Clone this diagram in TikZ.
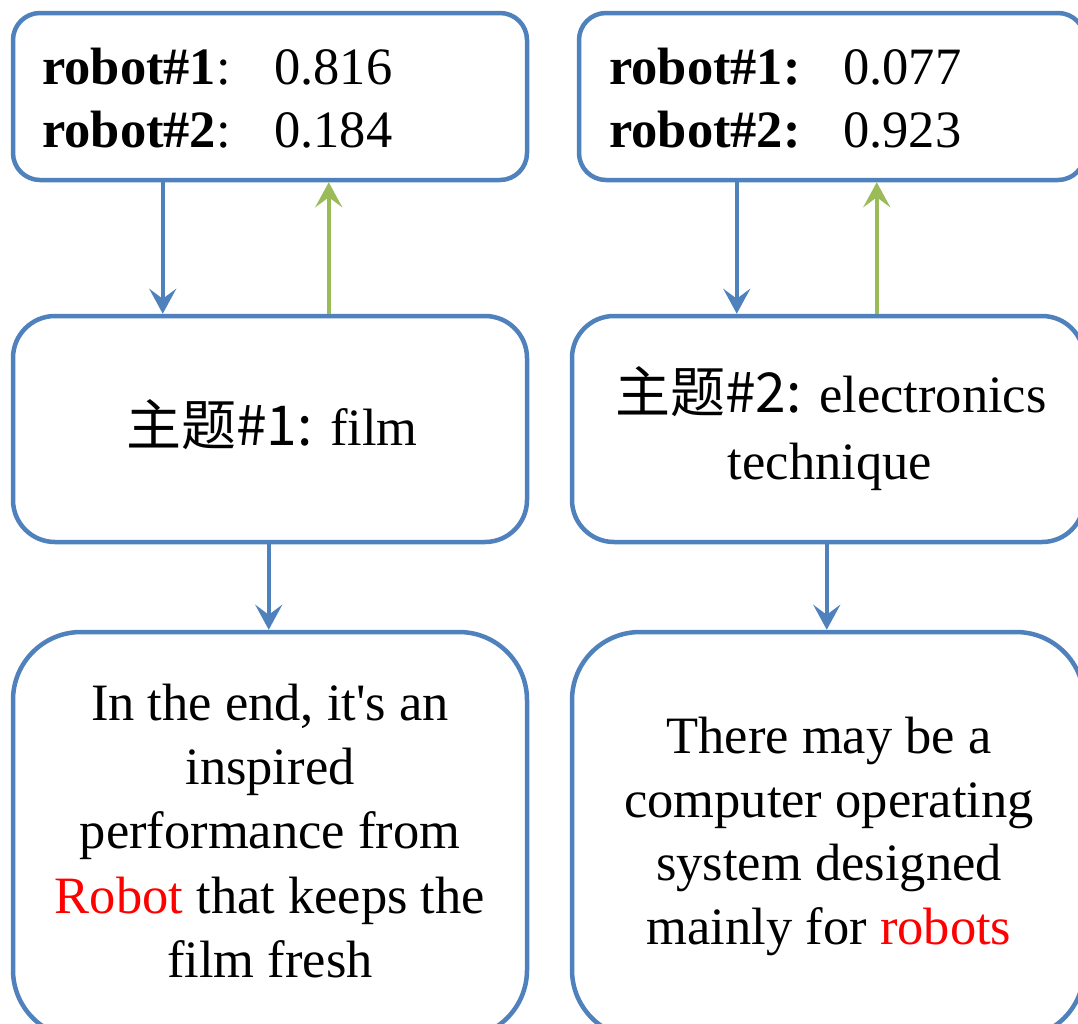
\documentclass[tikz,border=0pt]{standalone}
\usepackage{fontspec}
\setmainfont{Liberation Serif}
\newfontfamily\cjk{Noto Sans CJK SC}
\usetikzlibrary{arrows.meta,calc}
\definecolor{bl}{HTML}{4F81BD}
\definecolor{gr}{HTML}{9BBB59}
\begin{document}
\begin{tikzpicture}[x=1pt,y=-1pt,
  box/.style={draw=bl,line width=4.5pt,rounded corners=#1,inner sep=0pt,fill=white},
  txt/.style={inner sep=0pt,anchor=base,font=\fontsize{52.5}{64}\selectfont},
  txtl/.style={inner sep=0pt,anchor=base west,font=\fontsize{52.5}{64}\selectfont},
  barrow/.style={draw=bl,line width=4.5pt,-{Stealth[length=25pt,width=27pt,inset=10pt]}},
  garrow/.style={draw=gr,line width=4.5pt,-{Stealth[length=25pt,width=27pt,inset=10pt]}}]
\useasboundingbox (0,0) rectangle (1078,1023);
\clip (0,0) rectangle (1078,1023);
% boxes
\node[box=27pt,minimum width=514pt,minimum height=167pt] (t1) at (270,96.5) {};
\node[box=27pt,minimum width=506pt,minimum height=167pt] (t2) at (832,96.5) {};
\node[box=42pt,minimum width=514pt,minimum height=226pt] (m1) at (270,429) {};
\node[box=42pt,minimum width=512pt,minimum height=226pt] (m2) at (828,429) {};
\node[box=68pt,minimum width=514pt,minimum height=406pt] (b1) at (270,835) {};
\node[box=68pt,minimum width=512pt,minimum height=406pt] (b2) at (828,835) {};
% top texts
\node[txtl] (t1a) at (42,84) {\textbf{robot\#1}:};
\node[txtl] (t1b) at (274,84) {0.816};
\node[txtl] (t1c) at (42,147) {\textbf{robot\#2}:};
\node[txtl] (t1d) at (274,147) {0.184};
\node[txtl] (t2a) at (609,84) {\textbf{robot\#1:}};
\node[txtl] (t2b) at (843,84) {0.077};
\node[txtl] (t2c) at (609,147) {\textbf{robot\#2:}};
\node[txtl] (t2d) at (843,147) {0.923};
% middle texts
\node[txt] (m1a) at (272,445) {{\cjk\fontsize{55}{64}\selectfont 主题\#1:} film};
\node[txt] (m2a) at (831,412) {{\cjk\fontsize{55}{64}\selectfont 主题\#2:} electronics};
\node[txt] (m2b) at (830,479) {technique};
% bottom texts
\node[txt] (b1a) at (270,720) {In the end, it\textquotesingle s an};
\node[txt] (b1b) at (270,784) {inspired};
\node[txt] (b1c) at (270,848) {performance from};
\node[txt] (b1d) at (270,913) {{\color{red}Robot} that keeps the};
\node[txt] (b1e) at (270,977) {film fresh};
\node[txt] (b2a) at (829,753) {There may be a};
\node[txt] (b2b) at (829,817) {computer operating};
\node[txt] (b2c) at (829,880) {system designed};
\node[txt] (b2d) at (829,944) {mainly for {\color{red}robots}};
% arrows
\draw[barrow] ($(t1.south west)+(152,0)$) -- ($(m1.north west)+(152,0)$);
\draw[garrow] ($(m1.north west)+(318,0)$) -- ($(t1.south west)+(318,0)$);
\draw[barrow] ($(t2.south west)+(160,0)$) -- ($(m2.north west)+(167,0)$);
\draw[garrow] ($(m2.north west)+(307,0)$) -- ($(t2.south west)+(300,0)$);
\draw[barrow] ($(m1.south west)+(258,0)$) -- ($(b1.north west)+(258,0)$);
\draw[barrow] ($(m2.south west)+(257,0)$) -- ($(b2.north west)+(257,0)$);
\end{tikzpicture}
\end{document}
